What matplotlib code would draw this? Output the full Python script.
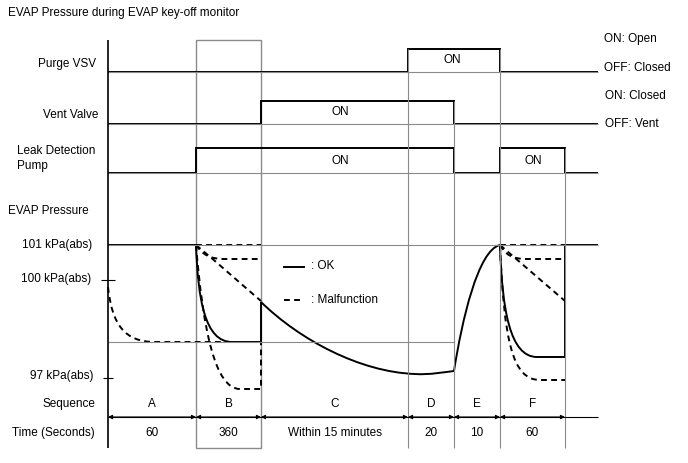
import matplotlib.pyplot as plt
from matplotlib.path import Path
from matplotlib.patches import PathPatch, Rectangle

plt.rcParams['font.family'] = ['Liberation Sans', 'DejaVu Sans']

# diagram is laid out in picture coordinates (x to the right, y downwards)
seq_edges = [108, 196, 261, 408, 454, 500, 565]
seq_labels = ['A', 'B', 'C', 'D', 'E', 'F']
seq_times = ['60', '360', 'Within 15 minutes', '20', '10', '60']
x_end = 598

# on/off signals: switching points and state of each interval
purge_edges = [108, 408, 500, 598]
purge_states = [0, 1, 0]
vent_edges = [108, 261, 454, 598]
vent_states = [0, 1, 0]
pump_edges = [108, 196, 454, 500, 565, 598]
pump_states = [0, 1, 0, 1, 0]
signal_levels = {'purge': (72, 49), 'vent': (124, 101), 'pump': (173, 148)}

# pressure levels (y)
p101 = 245
p100 = 280
p_ref = 342
p97 = 378

# pressure curves: first 4 points = cubic bezier, rest = straight segments
ok_curves = [
    [(108, 245), (150, 245), (180, 245), (196, 245)],
    [(196, 245), (198, 300), (205, 342), (232, 342), (261, 342), (261, 302)],
    [(261, 302), (300, 340), (360, 372), (415, 374)],
    [(415, 374), (430, 375), (445, 372), (454, 371)],
    [(454, 371), (462, 320), (478, 250), (500, 245)],
    [(500, 245), (502, 310), (510, 357), (537, 357), (565, 357), (565, 245), (598, 245)],
]
bad_curves = [
    [(108, 287), (112, 325), (125, 342), (155, 342), (232, 342)],
    [(196, 245), (220, 245), (240, 245), (261, 245)],
    [(196, 245), (203, 255), (210, 259), (225, 259), (261, 259)],
    [(196, 245), (220, 265), (240, 283), (261, 301)],
    [(196, 245), (203, 330), (215, 389), (240, 389), (261, 389), (261, 342)],
    [(500, 245), (520, 245), (545, 245), (565, 245)],
    [(500, 245), (506, 255), (512, 259), (527, 259), (565, 259)],
    [(500, 245), (520, 262), (545, 284), (565, 301)],
    [(500, 245), (504, 340), (512, 380), (540, 380), (565, 380)],
]

black = '#000000'
grey = '#8a8a8a'
thick = 1.4
thin = 0.8
fs = 8.5


def draw_curve(ax, pts, ls):
    codes = [Path.MOVETO] + [Path.CURVE4] * 3 + [Path.LINETO] * (len(pts) - 4)
    ax.add_patch(PathPatch(Path(pts, codes), fill=False, lw=thick, color=black,
                           linestyle=ls, capstyle='butt'))


fig = plt.figure(figsize=(6.88, 4.63), dpi=100)
ax = fig.add_axes([0, 0, 1, 1])
ax.set_xlim(0, 688)
ax.set_ylim(463, 0)
ax.axis('off')

# grey guide lines
ax.add_patch(Rectangle((seq_edges[1], 40), seq_edges[2] - seq_edges[1], 408,
                       fill=False, ec=grey, lw=1.0))
ax.vlines([seq_edges[3], seq_edges[5]], 49, 448, color=grey, lw=thin)
ax.vlines(seq_edges[4], 101, 448, color=grey, lw=thin)
ax.vlines(seq_edges[6], 148, 448, color=grey, lw=thin)
for name in signal_levels:
    ax.hlines(signal_levels[name][0], 108, x_end, color=grey, lw=thin)
ax.hlines(p101, 108, x_end, color=grey, lw=thin)
ax.hlines(p_ref, 108, seq_edges[4], color=grey, lw=thin)

# left axis
ax.vlines(108, 40, 448, color=black, lw=1.2)

# signals
for edges, states, key in [(purge_edges, purge_states, 'purge'),
                           (vent_edges, vent_states, 'vent'),
                           (pump_edges, pump_states, 'pump')]:
    off, on = signal_levels[key]
    vals = [off - s * (off - on) for s in states]
    ax.stairs(vals, edges, baseline=None, color=black, lw=thick)

# pressure curves
for c in ok_curves:
    draw_curve(ax, c, '-')
for c in bad_curves:
    draw_curve(ax, c, (0, (3, 2.2)))

# ticks on pressure axis
ax.hlines(p100, 101, 115, color=black, lw=thin)
ax.hlines(p97, 103, 113, color=black, lw=thin)

# legend
ax.plot([284, 304], [267, 267], color=black, lw=thick)
ax.plot([284, 304], [300, 300], color=black, lw=thick, linestyle=(0, (3, 2.2)))
ax.text(311, 266, ': OK', fontsize=fs, va='center')
ax.text(311, 300, ': Malfunction', fontsize=fs, va='center')

# dimension arrows
ax.hlines(417, 108, x_end, color=black, lw=thin)
for x0, x1 in zip(seq_edges[:-1], seq_edges[1:]):
    ax.annotate('', xy=(x1, 417), xytext=(x0, 417),
                arrowprops=dict(arrowstyle='<|-|>', color=black, lw=thin,
                                shrinkA=0, shrinkB=0, mutation_scale=6))
for i in range(len(seq_labels)):
    xc = (seq_edges[i] + seq_edges[i + 1]) / 2
    ax.text(xc, 404, seq_labels[i], fontsize=fs, ha='center', va='center')
    ax.text(xc, 433, seq_times[i], fontsize=fs, ha='center', va='center')

# texts
ax.text(8, 13, 'EVAP Pressure during EVAP key-off monitor', fontsize=fs, va='center')
ax.text(96, 64, 'Purge VSV', fontsize=fs, ha='right', va='center')
ax.text(98, 115, 'Vent Valve', fontsize=fs, ha='right', va='center')
ax.text(17, 151, 'Leak Detection', fontsize=fs, va='center')
ax.text(17, 166, 'Pump', fontsize=fs, va='center')
ax.text(8, 211, 'EVAP Pressure', fontsize=fs, va='center')
ax.text(92, 245, '101 kPa(abs)', fontsize=fs, ha='right', va='center')
ax.text(91, 279, '100 kPa(abs)', fontsize=fs, ha='right', va='center')
ax.text(93, 376, '97 kPa(abs)', fontsize=fs, ha='right', va='center')
ax.text(95, 404, 'Sequence', fontsize=fs, ha='right', va='center')
ax.text(95, 433, 'Time (Seconds)', fontsize=fs, ha='right', va='center')

ax.text(452, 60, 'ON', fontsize=fs, ha='center', va='center')
ax.text(340, 112, 'ON', fontsize=fs, ha='center', va='center')
ax.text(340, 161, 'ON', fontsize=fs, ha='center', va='center')
ax.text(533, 161, 'ON', fontsize=fs, ha='center', va='center')

ax.text(604, 39, 'ON: Open', fontsize=fs, va='center')
ax.text(604, 68, 'OFF: Closed', fontsize=fs, va='center')
ax.text(605, 96, 'ON: Closed', fontsize=fs, va='center')
ax.text(605, 124, 'OFF: Vent', fontsize=fs, va='center')

fig.savefig('out.png', dpi=100)
